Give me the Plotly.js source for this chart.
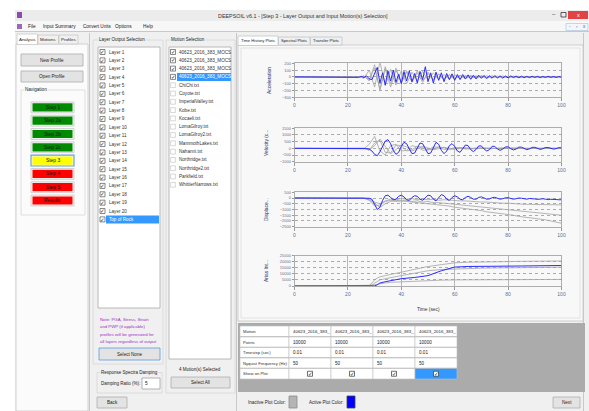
<!DOCTYPE html>
<html><head><meta charset="utf-8">
<script src="https://cdn.plot.ly/plotly-3.0.1.min.js"></script>
<style>html,body{margin:0;padding:0;background:#fff;overflow:hidden}#c{width:589px;height:411px}</style>
</head><body><div id="c"></div><script>
// ---------- data ----------
const T1 = [0,20,21,22,23,24,25,26,27,28,29,30,31,32,33,34,35,36,37,38,39,40,41,42,43,44,45,46,47,48,49,50,51,52,53,54,55,56,57,58,59,60,61,62,63,64,65,66,67,68,69,70,71,72,73,74,75,76,77,78,79,80,81,82,83,84,85,86,87,88,89,90,91,92,93,94,95,96,97,98,99,100];
const T2 = [0,20,22,24,26,28,30,32,34,36,38,40,42,44,46,48,50,52,54,56,58,60,62,64,66,68,70,72,74,76,78,80,82,84,86,88,90,92,94,96,98,100];
const T3 = [0,20,25,28,29,30,31,32,34,36,40,45,50,55,60,65,70,75,80,85,90,95,100];

const accBlue = [0,0,2,-3,5,-6,8,-10,15,-30,-40,50,140,-90,60,-120,90,-60,100,-80,40,-100,80,-60,90,-70,50,-90,80,-40,150,-70,60,-90,70,-50,60,-70,50,-40,45,-50,35,-40,35,-30,30,-35,25,-30,25,-20,22,-25,18,-20,20,-15,15,-18,12,-15,14,-10,12,-12,10,-12,8,-10,10,-8,8,-10,6,-8,8,-6,6,-8,5,-4];
const accGray1 = [0,0,3,-6,15,-60,180,-200,120,-150,100,-80,90,-70,60,-80,70,-50,40,-45,35,-30,25,-25,20,-20,18,-15,15,-12,12,-10,10,-10,8,-8,8,-6,6,-6,5,-4];
const accGray2 = [0,0,-2,5,-20,100,-150,220,-130,110,-120,90,-100,70,-60,80,-50,60,-40,35,-35,30,-25,22,-20,18,-15,15,-12,12,-10,10,-8,8,-8,7,-6,6,-5,5,-4,3];
const accGray3 = [0,0,2,-4,10,-40,130,-180,150,-100,130,-90,70,-80,90,-60,50,-40,45,-30,30,-28,20,-20,18,-15,12,-12,10,-10,9,-8,7,-7,6,-6,5,-5,4,-4,3,-2];

const velBlue = [0,0,0,0,0,5,-10,20,-20,-60,-200,-450,-550,-250,200,550,650,350,-150,-450,-300,150,450,350,-50,-400,-350,50,400,350,-50,-400,-350,100,450,300,-150,-400,-200,200,350,150,-200,-300,-50,250,200,-100,-250,-80,180,180,-50,-200,-100,150,150,-50,-150,-60,100,120,-30,-120,-50,90,90,-30,-100,-40,70,80,-20,-80,-30,60,60,-20,-60,-20,50,40];
const velGray1 = [0,0,0,5,-30,300,900,-200,-500,200,300,-200,-150,200,100,-150,-100,100,80,-80,-60,60,50,-50,-40,40,30,-30,-30,25,20,-20,-20,15,15,-15,-10,10,10,-10,-8,5];
const velGray2 = [0,0,0,-5,20,-150,400,600,-300,-350,250,200,-200,-100,150,80,-120,-60,90,50,-70,-40,50,30,-40,-25,30,20,-25,-15,20,12,-15,-10,12,8,-10,-6,8,5,-6,-4];
const velGray3 = [0,0,0,3,-10,-100,200,700,100,-400,-100,250,100,-200,-50,150,30,-100,-20,80,10,-60,-10,40,10,-30,-5,25,5,-20,-5,15,5,-12,-5,10,4,-8,-3,6,2,-4];

const dispBlue = [0,0,0,0,0,0,0,0,0,-20,-100,-500,-1000,-800,-200,200,250,50,-150,-100,150,250,100,-150,-200,50,200,150,-100,-200,0,250,200,-100,-250,0,300,200,-100,-200,50,200,100,-100,-150,50,150,50,-100,-100,50,100,0,-100,-80,30,60,-20,-100,-60,20,30,-50,-100,-60,0,-20,-90,-100,-40,-30,-80,-120,-80,-60,-100,-140,-110,-90,-130,-150,-150];
const dispGray1 = [0,0,0,0,-20,-200,-700,-600,-300,-200,-300,-250,-300,-350,-350,-450,-450,-500,-600,-650,-700,-800,-850,-900,-1000,-1050,-1100,-1200,-1250,-1300,-1400,-1450,-1500,-1600,-1650,-1700,-1800,-1850,-1900,-2000,-2100,-2200];
const dispGray2 = [0,0,0,0,-10,-150,-500,-800,-500,-300,-200,-250,-200,-300,-250,-350,-300,-400,-400,-450,-500,-550,-600,-650,-700,-750,-800,-850,-900,-950,-1000,-1050,-1100,-1150,-1200,-1250,-1300,-1350,-1400,-1450,-1480,-1500];
const dispGray3 = [0,0,0,0,-5,-100,-350,-500,-250,-100,-150,-50,-100,-50,-150,-100,-150,-100,-200,-150,-200,-200,-250,-250,-300,-300,-350,-350,-400,-400,-450,-450,-500,-500,-550,-550,-550,-600,-600,-600,-600,-600];

const ariasBlue  = [0,0,0,0,0,100,1000,2500,3500,4500,6000,7000,8500,12500,15500,16000,16300,16300,16300,16400,16500,16700,16800];
const ariasGray1 = [0,0,0,500,2500,5000,6500,7500,8500,9500,11000,13500,16000,17500,19000,19500,19800,20000,20100,20200,20300,20400,20500];
const ariasGray2 = [0,0,0,200,1000,2500,4000,5000,6000,7000,8500,10500,12500,13500,14000,14300,14600,14800,15000,15100,15200,15300,15400];
const ariasGray3 = [0,0,0,100,500,1000,1500,2000,2500,3000,3500,4000,4500,4800,5000,5100,5200,5300,5300,5400,5400,5400,5400];

const xTicks = [0,20,40,60,80,100];
const plotTitles = ["Acceleration","Velocity (c...","Displace...","Arias Int..."];
const layerItems = ["Layer 1","Layer 2","Layer 3","Layer 4","Layer 5","Layer 6","Layer 7","Layer 8","Layer 9","Layer 10","Layer 11","Layer 12","Layer 13","Layer 14","Layer 15","Layer 16","Layer 17","Layer 18","Layer 19","Layer 20","Top of Rock"];
const motionItems = ["40623_2016_383_MOCS","40623_2016_383_MOCS","40623_2016_383_MOCS","40623_2016_383_MOCS","ChiChi.txt","Coyote.txt","ImperialValley.txt","Kobe.txt","Kocaeli.txt","LomaGilroy.txt","LomaGilroy2.txt","MammothLakes.txt","Nahanni.txt","Northridge.txt","Northridge2.txt","Parkfield.txt","WhittierNarrows.txt"];
const motionChecked = [true,true,true,true,false,false,false,false,false,false,false,false,false,false,false,false,false];
const steps = ["Step 1","Step 2a","Step 2b","Step 2c","Step 3","Step 4","Step 5","Results"];
const stepColors = ["#008a00","#008a00","#008a00","#008a00","#ffff00","#ff0000","#ff0000","#ff0000"];
const tableRowLabels = ["Motion","Points","Timestep (sec)","Nyquist Frequency (Hz)","Show on Plot"];
const tableMotion = ["40623_2016_383_","40623_2016_383_","40623_2016_383_","40623_2016_383_"];
const tablePoints = ["10000","10000","10000","10000"];
const tableStep = ["0.01","0.01","0.01","0.01"];
const tableNyq = ["50","50","50","50"];
const noteLines = ["Note: PGA, Stress, Strain","and PWP (if applicable)","profiles will be generated for","all layers regardless of output"];

// ---------- helpers ----------
const W=589,H=411;
const X=v=>v/W, Y=v=>1-v/H;
const F="Liberation Sans, Arial, sans-serif";
const shapes=[], annotations=[];
function R(x0,y0,x1,y1,fill,line,lw){
  shapes.push({type:'rect',xref:'paper',yref:'paper',x0:X(x0),x1:X(x1),y0:Y(y1),y1:Y(y0),
    fillcolor:fill||'rgba(0,0,0,0)',line:{color:line||'rgba(0,0,0,0)',width:line?(lw||0.8):0},layer:'below'});
}
function Ln(x0,y0,x1,y1,c,w){
  shapes.push({type:'line',xref:'paper',yref:'paper',x0:X(x0),x1:X(x1),y0:Y(y0),y1:Y(y1),line:{color:c,width:w||1},layer:'below'});
}
function T(x,y,s,o){
  o=o||{};
  const a={xref:'paper',yref:'paper',x:X(x),y:Y(y),text:s,showarrow:false,xanchor:o.a||'left',yanchor:'middle',
    font:{family:o.f||F,size:o.s||4.6,color:o.c||'#222'},textangle:o.r||0,borderpad:0};
  if(o.bg) a.bgcolor=o.bg;
  annotations.push(a);
}
function check(cx,cy,box){
  R(cx-2.5,cy-2.5,cx+2.5,cy+2.5,'#ffffff',box||'#555',0.7);
  T(cx,cy+0.2,'✓',{a:'center',s:5.5,c:'#111',f:'DejaVu Sans'});
}
function button(x0,y0,x1,y1,label,border){
  R(x0,y0,x1,y1,'#e3e3e3',border||'#adadad',0.8);
  T((x0+x1)/2,(y0+y1)/2,label,{a:'center'});
}

// ---------- window chrome ----------
R(15,10,589,411,'#f0f0f0');
R(15,10,589,21,'#ececec');
R(15,21,589,31,'#f7f7f7');
Ln(15,31.5,589,31.5,'#c8c8c8',1);
R(17,12,22,18,'#8b4bb0');
T(303,15.5,'DEEPSOIL v6.1 - [Step 3 - Layer Output and Input Motion(s) Selection]',{a:'center',s:5.4,c:'#333'});
T(554,14,'–',{a:'center',s:6,c:'#333'});
R(561,12.5,566,17,'#ececec','#333',0.8);
R(568,11,588,19,'#e04343');
T(578,15,'x',{a:'center',s:5.5,c:'#fff'});
R(17,24,22,29,'#9a6ab8');
T(27,26.5,'File',{s:4.8});
T(42,26.5,'Input Summary',{s:4.8});
T(82,26.5,'Convert Units',{s:4.6});
T(114,26.5,'Options',{s:4.8});
T(142,26.5,'Help',{s:4.8});
R(566,23.5,588,30.5,'#f3f6fb','#b0c4de',0.7);
T(570,26.5,'-',{a:'center',s:4.5,c:'#557'});
T(577,26.5,'▫',{a:'center',s:4.5,c:'#557'});
T(584,26.5,'x',{a:'center',s:4.5,c:'#557'});

// ---------- left panel ----------
R(16,44,88,411,'#fbfbfb','#c8c8c8');
R(17,34,37.5,44.5,'#ffffff','#c8c8c8');
R(38,35,58.5,44,'#f0f0f0','#c8c8c8');
R(59,35,78,44,'#f0f0f0','#c8c8c8');
T(27.2,39.5,'Analysis',{a:'center',s:4.4});
T(48.2,39.5,'Motions',{a:'center',s:4.4});
T(68.5,39.5,'Profiles',{a:'center',s:4.4});
button(21,54,83,66,'New Profile');
button(21,71,83,82,'Open Profile');
R(21,90,85,215,null,'#d8d8d8');
T(24,90,'Navigation',{bg:'#fbfbfb'});
for(let i=0;i<steps.length;i++){
  const y0=102+i*13.3, y1=y0+10.8;
  R(31,y0,74,y1,'#f4f4f4',i===4?'#6aa0dc':'#c8c8c8',i===4?1.2:0.8);
  R(32.5,y0+1.3,72.5,y1-1.3,stepColors[i]);
  T(52.5,(y0+y1)/2,steps[i],{a:'center',s:4.9,c:'#111'});
}
Ln(89.5,33,89.5,411,'#c8c8c8',1);

// ---------- layer output selection ----------
R(93,40,163,364,null,'#d6d6d6');
T(98,39.5,'Layer Output Selection',{bg:'#f0f0f0',s:4.5});
R(98,47,160,308,'#ffffff','#a8a8a8');
for(let i=0;i<layerItems.length;i++){
  const y=52+i*8.37;
  const last = i===layerItems.length-1;
  if(last) R(106,y-4,159,y+4,'#3399ff');
  check(102.5,y);
  T(107.5,y,layerItems[i],{c:last?'#fff':'#333'});
}
for(let i=0;i<noteLines.length;i++) T(99,319.3+i*7.5,noteLines[i],{c:'#a12fc2',s:4.3});
button(99,348,160,360,'Select None','#5a9ae0');
R(97,372.5,162,393,null,'#d6d6d6');
T(99.5,372.5,'Response Spectra Damping',{bg:'#f0f0f0',s:4.5});
T(100,383.5,'Damping Ratio (%):',{s:4.5});
R(142,378,160,389,'#ffffff','#a0a0a0');
T(144,383.5,'5',{s:4.8});

// ---------- motion selection ----------
R(166,40,235,393,null,'#d6d6d6');
T(169.5,39.5,'Motion Selection',{bg:'#f0f0f0',s:4.5});
R(169,47,231,359,'#ffffff','#a8a8a8');
for(let i=0;i<motionItems.length;i++){
  const y=52+i*8.3;
  if(i===3) R(177,y-4,231,y+4,'#3399ff');
  if(motionChecked[i]) check(173,y);
  else R(170.6,y-2.4,175.4,y+2.4,'#ffffff','#bdbdbd',0.6);
  T(178,y,motionItems[i],{c:i===3?'#fff':'#333',s:4.6});
}
T(200,369,'4 Motion(s) Selected',{a:'center',s:4.5});
button(171,377,230,388,'Select All');
Ln(236.5,33,236.5,411,'#c8c8c8',1);

// ---------- right tab panel ----------
R(238,45,583,321,'#f8f8f8','#c4c4c4');
R(241,48,580,318,null,'#dcdcdc');
R(238,36,278,45.5,'#ffffff','#c4c4c4');
R(278.5,37,310,45,'#f0f0f0','#c4c4c4');
R(310.5,37,342,45,'#f0f0f0','#c4c4c4');
T(258,40.8,'Time History Plots',{a:'center',s:4.2});
T(294.2,41,'Spectral Plots',{a:'center',s:4.2});
T(326.2,41,'Transfer Plots',{a:'center',s:4.2});
Ln(583.5,33,583.5,411,'#c8c8c8',1);

// y titles
const tpos=[[270,81],[266,143],[266,210],[266,271]];
for(let i=0;i<4;i++) T(tpos[i][0],tpos[i][1],plotTitles[i],{a:'center',r:-90,s:4.9,c:'#1d2b6b'});
T(428,309,'Time (sec)',{a:'center',s:4.8,c:'#333'});

// ---------- motion table ----------
R(238,323,585,392,'#ababab');
const cols=[[240,289],[289,331],[331,373],[373,415],[415,457]];
const rows=[[326,336.5],[337,347],[347.5,357.5],[358,368],[368.5,379]];
for(let r=0;r<rows.length;r++){
  for(let c=0;c<cols.length;c++){
    const fill=(r===4&&c===4)?'#3399ff':'#ffffff';
    R(cols[c][0],rows[r][0],cols[c][1],rows[r][1],fill,'#c0c0c0',0.6);
  }
  T(241.5,(rows[r][0]+rows[r][1])/2,tableRowLabels[r],{s:4.2,c:'#333'});
}
for(let c=0;c<4;c++){
  const x0=cols[c+1][0]+2.5;
  T(x0,(rows[0][0]+rows[0][1])/2,tableMotion[c],{s:4.4});
  T(x0,(rows[1][0]+rows[1][1])/2,tablePoints[c],{s:4.6});
  T(x0,(rows[2][0]+rows[2][1])/2,tableStep[c],{s:4.6});
  T(x0,(rows[3][0]+rows[3][1])/2,tableNyq[c],{s:4.6});
  check((cols[c+1][0]+cols[c+1][1])/2,(rows[4][0]+rows[4][1])/2,'#333');
}

// ---------- bottom bar ----------
T(247,402,'Inactive Plot Color:',{s:4.5});
R(289,396,297,408,'#b4b4b4','#8a8a8a');
T(308,402,'Active Plot Color:',{s:4.5});
R(347,396,355,408,'#0000ff','#444');
button(97,397,127,408,'Back');
button(553,397,580,408,'Next');

// ---------- plots ----------
const grayC='#a3a3a3', blueC='#2a2aff';
function tr(x,y,ax,c,w){return {x:x,y:y,xaxis:'x'+ax,yaxis:'y'+ax,type:'scatter',mode:'lines',line:{color:c,width:w},hoverinfo:'skip'};}
const data=[
  tr(T2,accGray1,'', grayC,0.8),tr(T2,accGray2,'',grayC,0.8),tr(T2,accGray3,'',grayC,0.8),tr(T1,accBlue,'',blueC,1),
  tr(T2,velGray1,'2',grayC,0.8),tr(T2,velGray2,'2',grayC,0.8),tr(T2,velGray3,'2',grayC,0.8),tr(T1,velBlue,'2',blueC,1),
  tr(T2,dispGray1,'3',grayC,0.8),tr(T2,dispGray2,'3',grayC,0.8),tr(T2,dispGray3,'3',grayC,0.8),tr(T1,dispBlue,'3',blueC,1),
  tr(T3,ariasGray1,'4',grayC,0.8),tr(T3,ariasGray2,'4',grayC,0.8),tr(T3,ariasGray3,'4',grayC,0.8),tr(T3,ariasBlue,'4',blueC,1)
];
const dom=[[63.3,97.3],[128.3,161.7],[192.3,226.7],[255.5,286]];
const yr=[[-300,200,100],[-1000,1500,500],[-2500,500,500],[0,25000,5000]];
const layout={width:W,height:H,margin:{l:0,r:0,t:0,b:0},paper_bgcolor:'#ffffff',plot_bgcolor:'#ffffff',
  showlegend:false,shapes:shapes,annotations:annotations};
for(let i=0;i<4;i++){
  const k=i===0?'':String(i+1);
  layout['xaxis'+k]={domain:[X(294.5),X(561.5)],anchor:'y'+k,range:[0,100],tickvals:xTicks,
    showgrid:true,gridcolor:'#a8a8a8',gridwidth:0.8,zeroline:false,showline:true,linecolor:'#9a9a9a',linewidth:0.8,mirror:true,
    ticks:'outside',ticklen:3,tickcolor:'#9a9a9a',tickfont:{family:F,size:5,color:'#5d6f92'},fixedrange:true};
  layout['yaxis'+k]={domain:[Y(dom[i][1]),Y(dom[i][0])],anchor:'x'+k,range:[yr[i][0],yr[i][1]],dtick:yr[i][2],tick0:0,
    tickformat:'d',showgrid:true,gridcolor:'#8a8a8a',griddash:'dot',gridwidth:0.7,zeroline:false,showline:true,linecolor:'#9a9a9a',linewidth:0.8,mirror:true,
    ticks:'outside',ticklen:2,tickcolor:'#9a9a9a',tickfont:{family:F,size:4,color:'#5d6f92'},fixedrange:true};
}
Plotly.newPlot('c',data,layout,{staticPlot:true,displayModeBar:false});
</script></body></html>
